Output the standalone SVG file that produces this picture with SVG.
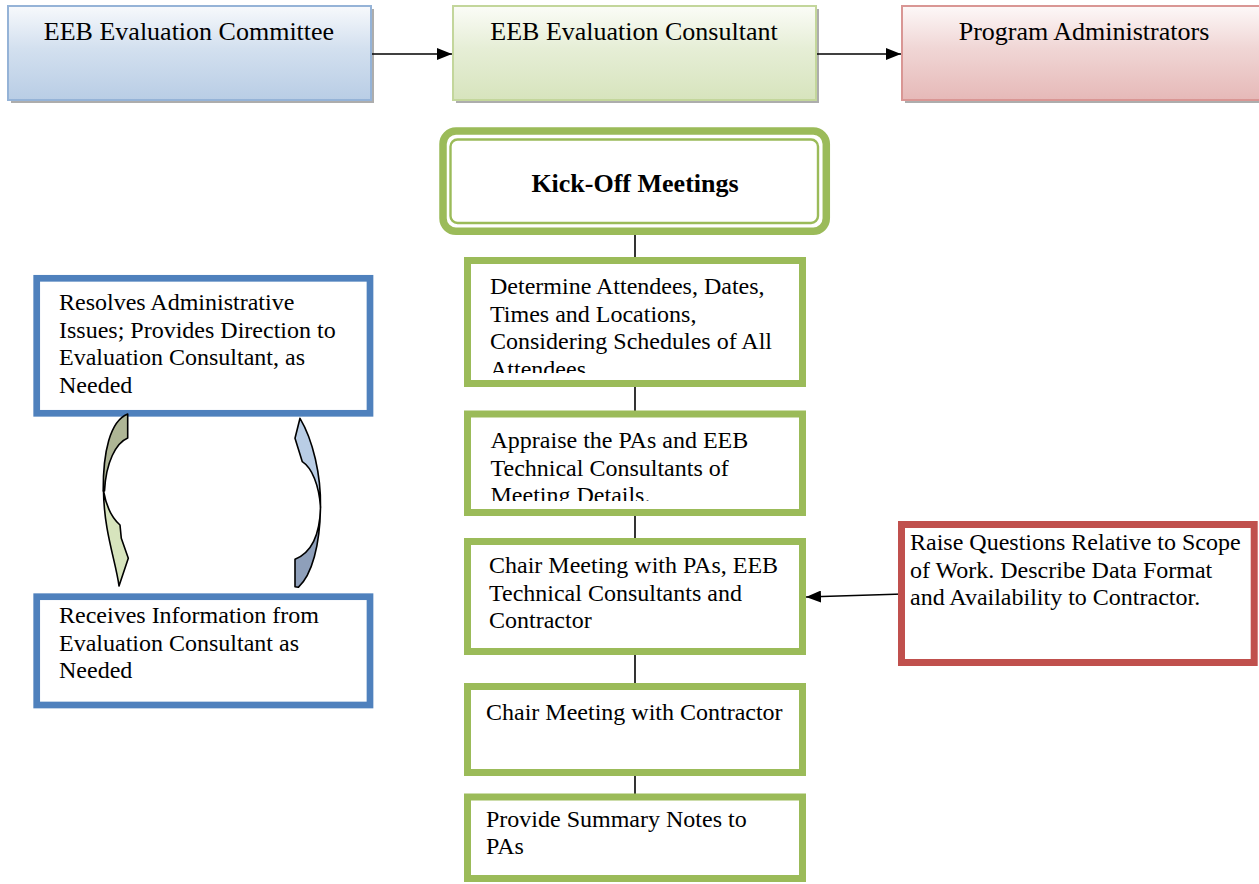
<svg xmlns="http://www.w3.org/2000/svg" width="1259" height="884" viewBox="0 0 1259 884">
  <defs>
    <linearGradient id="gBlue" x1="0" y1="0" x2="0" y2="1">
      <stop offset="0" stop-color="#f7f9fc"/>
      <stop offset="0.45" stop-color="#d3e0ef"/>
      <stop offset="1" stop-color="#b9cde5"/>
    </linearGradient>
    <linearGradient id="gGreen" x1="0" y1="0" x2="0" y2="1">
      <stop offset="0" stop-color="#fbfcf7"/>
      <stop offset="0.45" stop-color="#e6eed6"/>
      <stop offset="1" stop-color="#d7e4bd"/>
    </linearGradient>
    <linearGradient id="gRed" x1="0" y1="0" x2="0" y2="1">
      <stop offset="0" stop-color="#fdf8f8"/>
      <stop offset="0.45" stop-color="#f0d6d5"/>
      <stop offset="1" stop-color="#e6b9b8"/>
    </linearGradient>
    <marker id="arrow" markerUnits="userSpaceOnUse" markerWidth="16" markerHeight="12" refX="15" refY="6" orient="auto">
      <path d="M0,0 L15,6 L0,12 Z" fill="#000"/>
    </marker>
    <clipPath id="clipA"><rect x="471" y="264" width="328" height="109"/></clipPath>
    <clipPath id="clipB"><rect x="471" y="418" width="328" height="83"/></clipPath>
  </defs>
  <style>
    text { font-family: "Liberation Serif", "Times New Roman", serif; fill: #000; }
    .hdr { font-size: 26px; text-anchor: middle; }
    .body { font-size: 24px; }
    .kick { font-size: 26px; font-weight: bold; text-anchor: middle; }
    .shadow { fill: #000; opacity: 0.32; }
    .step { fill: #fff; stroke: #9bbb59; stroke-width: 7; }
    .role { fill: #fff; stroke: #4f81bd; stroke-width: 6.7; }
    .input { fill: #fff; stroke: #c0504d; stroke-width: 7; }
    .conn { stroke: #000; stroke-width: 1.6; fill: none; }
    .curl { stroke: #000; stroke-width: 1.6; stroke-linejoin: round; }
  </style>

  <!-- connectors -->
  <g id="connectors">
    <line class="conn" x1="372" y1="54" x2="452" y2="54" marker-end="url(#arrow)"/>
    <line class="conn" x1="817" y1="54" x2="901" y2="54" marker-end="url(#arrow)"/>
    <line class="conn" x1="635" y1="235" x2="635" y2="258"/>
    <line class="conn" x1="635" y1="386" x2="635" y2="412"/>
    <line class="conn" x1="635" y1="515" x2="635" y2="539"/>
    <line class="conn" x1="635" y1="654" x2="635" y2="684"/>
    <line class="conn" x1="635" y1="775" x2="635" y2="794"/>
    <line class="conn" x1="903" y1="594" x2="806" y2="597" marker-end="url(#arrow)"/>
  </g>

  <!-- header row -->
  <g id="committee">
    <rect class="shadow" x="11" y="9" width="363" height="94"/>
    <rect x="8" y="6" width="363" height="94" fill="url(#gBlue)" stroke="#95b3d7" stroke-width="2"/>
    <text class="hdr" x="189" y="40">EEB Evaluation Committee</text>
  </g>
  <g id="consultant">
    <rect class="shadow" x="456" y="9" width="363" height="94"/>
    <rect x="453" y="6" width="363" height="94" fill="url(#gGreen)" stroke="#c3d69b" stroke-width="2"/>
    <text class="hdr" x="634" y="40">EEB Evaluation Consultant</text>
  </g>
  <g id="administrators">
    <rect class="shadow" x="905" y="9" width="370" height="94"/>
    <rect x="902" y="6" width="370" height="94" fill="url(#gRed)" stroke="#d99694" stroke-width="2"/>
    <text class="hdr" x="1084" y="40">Program Administrators</text>
  </g>

  <!-- kick-off title -->
  <g id="kickoff">
    <rect x="443" y="131" width="383.3" height="100.3" rx="13" fill="#fff" stroke="#9bbb59" stroke-width="7.5"/>
    <rect x="450.5" y="139.5" width="367.5" height="83.5" rx="7" fill="none" stroke="#9bbb59" stroke-width="2.4"/>
    <text class="kick" x="635" y="192">Kick-Off Meetings</text>
  </g>

  <!-- step boxes -->
  <g id="step-determine">
    <rect class="step" x="467.5" y="260.5" width="335" height="123"/>
    <g clip-path="url(#clipA)">
      <text class="body" x="490" y="294">Determine Attendees, Dates,</text>
      <text class="body" x="490" y="321.6">Times and Locations,</text>
      <text class="body" x="490" y="349.2">Considering Schedules of All</text>
      <text class="body" x="490" y="376.8">Attendees</text>
    </g>
  </g>
  <g id="step-appraise">
    <rect class="step" x="467.5" y="414" width="335" height="98.5"/>
    <g clip-path="url(#clipB)">
      <text class="body" x="490.5" y="448">Appraise the PAs and EEB</text>
      <text class="body" x="490.5" y="475.6">Technical Consultants of</text>
      <text class="body" x="490.5" y="503.2">Meeting Details.</text>
    </g>
  </g>
  <g id="step-chair-pas">
    <rect class="step" x="467.5" y="541.5" width="335" height="110"/>
    <text class="body" x="489" y="573">Chair Meeting with PAs, EEB</text>
    <text class="body" x="489" y="600.6">Technical Consultants and</text>
    <text class="body" x="489" y="628.2">Contractor</text>
  </g>
  <g id="step-chair-contractor">
    <rect class="step" x="467.5" y="686.5" width="335" height="86"/>
    <text class="body" x="486" y="720">Chair Meeting with Contractor</text>
  </g>
  <g id="step-summary">
    <rect class="step" x="467.5" y="797" width="335" height="81.5"/>
    <text class="body" x="486" y="826.7">Provide Summary Notes to</text>
    <text class="body" x="486" y="854.3">PAs</text>
  </g>

  <!-- program administrator input -->
  <g id="pa-input">
    <rect class="input" x="901.5" y="524.5" width="352.7" height="138"/>
    <text class="body" x="910" y="550">Raise Questions Relative to Scope</text>
    <text class="body" x="910" y="577.6">of Work. Describe Data Format</text>
    <text class="body" x="910" y="605.2">and Availability to Contractor.</text>
  </g>

  <!-- committee role boxes -->
  <g id="committee-resolves">
    <rect class="role" x="36.7" y="278.3" width="333.3" height="135"/>
    <text class="body" x="59" y="310">Resolves Administrative</text>
    <text class="body" x="59" y="337.6">Issues; Provides Direction to</text>
    <text class="body" x="59" y="365.2">Evaluation Consultant, as</text>
    <text class="body" x="59" y="392.8">Needed</text>
  </g>
  <g id="committee-receives">
    <rect class="role" x="36.7" y="596.7" width="333.3" height="108.3"/>
    <text class="body" x="59" y="623">Receives Information from</text>
    <text class="body" x="59" y="650.6">Evaluation Consultant as</text>
    <text class="body" x="59" y="678.2">Needed</text>
  </g>

  <!-- curved exchange arrows -->
  <g id="curl-down">
    <path class="curl" fill="#aeb595" d="M127.7,414 L127.7,438 C116,443 106,462 104.5,491 L103.2,491 C103,452 110,421 127.7,414 Z"/>
    <path class="curl" fill="#d7e4bd" d="M103.5,491 C106,505 112,518 120,525 L121.3,538.3 L128.3,558.3 L119,586 C116,562 104,532 103.5,491 Z"/>
  </g>
  <g id="curl-up">
    <path class="curl" fill="#b9cde5" d="M300,418.3 L295,438.3 L302.3,461.7 C312,468 319,485 320.5,507 C321,475 313,440 300,418.3 Z"/>
    <path class="curl" fill="#8e9fba" d="M320.5,507 C320,533 313,552 295,559.3 L295,586.7 L298.3,587.3 C312,575 320,545 320.5,507 Z"/>
  </g>
</svg>
